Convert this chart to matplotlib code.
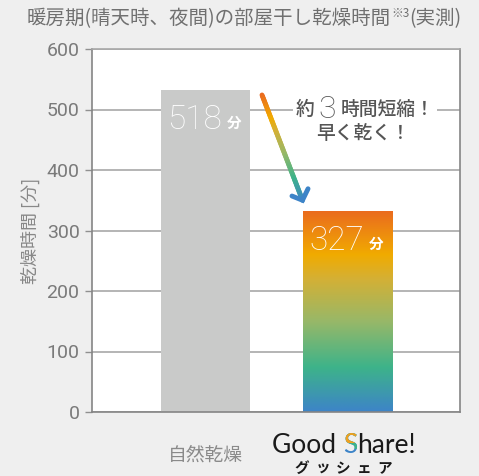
import numpy as np
import matplotlib
matplotlib.use("Agg")
import matplotlib.pyplot as plt
from matplotlib.colors import LinearSegmentedColormap
from matplotlib.collections import LineCollection
from matplotlib.patches import Rectangle
from matplotlib.transforms import IdentityTransform

plt.rcParams['font.family'] = ['Noto Sans CJK JP', 'DejaVu Sans']

# データ
title_main = '暖房期(晴天時、夜間)の部屋干し乾燥時間'
title_note = '※3'
title_tail = '(実測)'
categories = ['自然乾燥', 'Good Share!']
bar_heights = [533, 333]      # 図中の棒の高さ
bar_labels = ['518', '327']   # 表示値
bar_unit = '分'
yticks = [0, 100, 200, 300, 400, 500, 600]
ylabel = '乾燥時間 [分]'
note_line1 = ['約', '3', '時間短縮！']
note_line2 = '早く乾く！'
kana = 'グッシェア'

# 色
c_gray_bar = '#c9cac9'
c_text = '#7a7a7a'
grad = LinearSegmentedColormap.from_list(
    'gs', [(0.0, '#3d84c8'), (0.22, '#3db38a'), (0.45, '#98b868'),
           (0.66, '#d4b035'), (0.78, '#f1ab00'), (1.0, '#ea6a1f')])

W, H = 479, 476
fig = plt.figure(figsize=(W / 100, H / 100), dpi=100)
fig.patch.set_facecolor('#efefef')
ax = fig.add_axes((92 / W, 1 - 412 / H, 368 / W, 363 / H))
ax.set_facecolor('white')

x = np.arange(len(categories))
width = 0.627
bars = ax.bar(x, bar_heights, width=width, color=[c_gray_bar, 'none'], zorder=2)

# グラデーションの棒
b = bars[1]
x0, w, h = b.get_x(), b.get_width(), b.get_height()
im = ax.imshow(np.linspace(0, 1, 256).reshape(-1, 1), cmap=grad, origin='lower',
               extent=[x0, x0 + w, 0, h], aspect='auto', zorder=2)
im.set_clip_path(b)

ax.set_xlim(-0.799, 1.792)
ax.set_ylim(0, 600)
ax.set_yticks(yticks, [str(v) for v in yticks], fontfamily='Roboto',
              fontweight='normal', fontsize=14, color=c_text)
ax.tick_params(axis='y', direction='out', length=5, width=1, color='#909090', pad=4)
ax.set_xticks(x, ['', ''])
ax.tick_params(axis='x', length=0)
ax.yaxis.grid(True, color='#a8a8a8', lw=1.2)
ax.set_axisbelow(True)
for s in ['left', 'bottom', 'right']:
    ax.spines[s].set_color('#858585')
    ax.spines[s].set_linewidth(1.2)
ax.spines['top'].set_color('#a8a8a8')
ax.spines['top'].set_linewidth(1.2)
ax.set_ylabel(ylabel, fontsize=13, color='#888888', labelpad=5)

# 棒のラベル
for xc, hh, lab in zip(x, bar_heights, bar_labels):
    t = ax.text(xc - 0.075, hh - 50, lab, ha='center', va='center', color='white',
                fontfamily='Roboto', fontweight='light', fontsize=24, zorder=4)
    ax.annotate(bar_unit, xycoords=t, xy=(1, 0.4), xytext=(3, 0),
                textcoords='offset points', ha='left', va='center',
                color='white', fontsize=10.5, fontweight='bold', zorder=4)

# 矢印（グラデーション）
p0 = np.array([0.398, 524.0])
p1 = np.array([0.683, 350.0])
n = 60
tt = np.linspace(0, 1, n + 1)
pts = p0 + (p1 - p0) * tt[:, None]
segs = np.stack([pts[:-1], pts[1:]], axis=1)
lc = LineCollection(segs, colors=grad(1 - tt[:-1] * 0.98), linewidths=3.5,
                    capstyle='round', zorder=5)
ax.add_collection(lc)
ax.plot([0.609, p1[0], 0.722], [357, p1[1], 369], color='#3d84c8', lw=3.5,
        solid_capstyle='round', solid_joinstyle='miter', zorder=5)

# 注記
box = dict(fc='white', ec='none', pad=2)
t1 = ax.text(0.637, 500, note_line1[0], ha='left', va='center', fontsize=13.5,
             color='#555555', fontweight='medium', bbox=box, zorder=3)
t2 = ax.annotate(note_line1[1], xycoords=t1, xy=(1, 0.5), xytext=(3, 0),
                 textcoords='offset points', ha='left', va='center',
                 fontfamily='Roboto', fontweight='light', fontsize=23,
                 color='#555555', bbox=box, zorder=3)
ax.annotate(note_line1[2], xycoords=t2, xy=(1, 0.5), xytext=(3, 0),
            textcoords='offset points', ha='left', va='center', fontsize=13.5,
            color='#555555', fontweight='medium', bbox=box, zorder=3)
ax.text(1.109, 461, note_line2, ha='center', va='center', fontsize=13.5,
        color='#555555', fontweight='medium', zorder=3)

# x ラベル
ax.text(0, -0.118, categories[0], transform=ax.get_xaxis_transform(),
        ha='center', va='center', fontsize=13.5, color='#8a8a8a')

# ロゴ
logo_kw = dict(fontfamily='Lato', fontsize=19, color='#1a1a1a')
tg = fig.text(272 / W, 1 - 453 / H, 'Good ', ha='left', va='baseline', **logo_kw)
s_layers = []
for col in ['#3d84c8', '#3db38a', '#f0a020']:
    s = fig.text(0, 0, 'S', ha='left', va='baseline', fontfamily='Lato',
                 fontsize=19, color=col)
    s_layers.append(s)
fig.canvas.draw()
r = fig.canvas.get_renderer()
bb = tg.get_window_extent(r)
for s in s_layers:
    s.set_position((bb.x1 / W, 1 - 453 / H))
fig.canvas.draw()
sb = s_layers[0].get_window_extent(r)
for s, frac in zip(s_layers[1:], [0.38, 0.6]):
    rect = Rectangle((sb.x0 - 2, sb.y0 + frac * sb.height), sb.width + 4,
                     sb.height, transform=IdentityTransform())
    s.set_clip_path(rect)
fig.text(sb.x1 / W, 1 - 453 / H, 'hare!', ha='left', va='baseline', **logo_kw)

for i, ch in enumerate(kana):
    fig.text((302 + i * 20.7) / W, 1 - 468 / H, ch, ha='center', va='center',
             fontsize=10.5, fontweight='bold', color='#1a1a1a')

# タイトル
tt1 = fig.text(27 / W, 1 - 19 / H, title_main, ha='left', va='center',
               fontsize=14, color='#707070')
tt2 = fig.text(0, 0, title_note, fontsize=8.5, color='#707070')
tt3 = fig.text(0, 0, title_tail, fontsize=14, color='#707070')
fig.canvas.draw()
b1 = tt1.get_window_extent(r)
tt2.set_position((b1.x1 / W, (b1.y0 + 0.6 * b1.height) / H))
fig.canvas.draw()
b2 = tt2.get_window_extent(r)
tt3.set_position((b2.x1 / W, 1 - 19 / H))
tt3.set_va('center')

fig.savefig('out.png', dpi=100, facecolor=fig.get_facecolor())
